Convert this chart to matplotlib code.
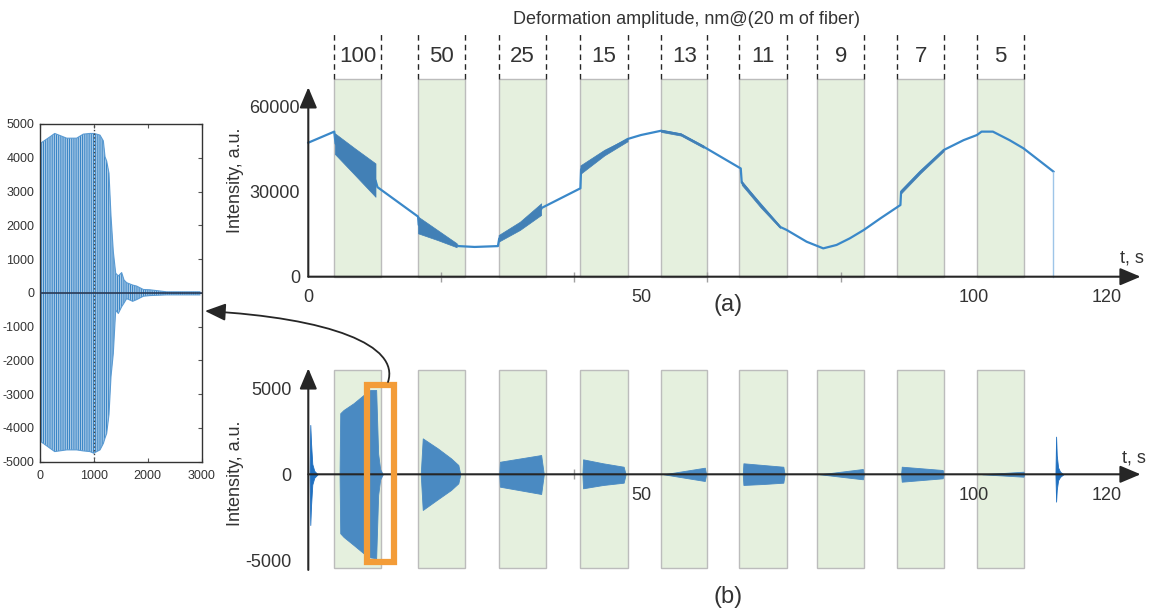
import matplotlib
matplotlib.use('Agg')
import matplotlib.pyplot as plt
from matplotlib.patches import Rectangle, FancyArrowPatch
from matplotlib.path import Path

plt.rcParams['font.family'] = ['Liberation Sans', 'DejaVu Sans']
plt.rcParams['hatch.linewidth'] = 0.8
plt.rcParams['axes.unicode_minus'] = False

# ---------------- data ----------------
amplitude_labels = ['100', '50', '25', '15', '13', '11', '9', '7', '5']
band_start = [3.9, 16.5, 28.6, 40.9, 53.0, 64.8, 76.5, 88.5, 100.5]
band_end = [11.0, 23.6, 35.7, 48.0, 60.0, 71.9, 83.6, 95.6, 107.6]
title_text = 'Deformation amplitude, nm@(20 m of fiber)'

# (a) slow intensity trace (t in s, intensity in a.u.)
a_t = [0, 3.9, 4.1, 10.1, 10.4, 16.5, 16.6, 19.4, 22.3, 22.6, 25.0, 28.5,
       28.7, 31.8, 35.0, 35.1, 40.9, 41.0, 44.5, 48.0, 50.0, 53.0, 56.0,
       59.4, 65.0, 65.15, 70.9, 71.9, 74.9, 77.4, 79.4, 81.4, 83.5, 86.0,
       89.0, 89.1, 92.0, 95.5, 98.5, 100.5, 101.2, 102.9, 105.4, 107.5, 112.0]
a_v = [47300, 51200, 47000, 34000, 31600, 21200, 18300, 14800, 11100, 10800,
       10500, 10800, 13500, 18000, 23800, 24300, 31200, 37900, 43900, 48600,
       50000, 51500, 50200, 45900, 38200, 33200, 17600, 16500, 12350, 10000,
       11200, 13550, 16500, 20600, 25300, 30000, 37050, 44700, 48200, 50000,
       51200, 51200, 48200, 45300, 37100]
a_drop_t = [112.0, 112.0]
a_drop_v = [37100, 0]

# (a) oscillation envelopes inside the deformation windows
a_env_t = [[4.0, 7.0, 10.1], [16.5, 19.4, 22.3], [28.6, 31.8, 35.0],
           [40.9, 44.5, 48.0], [53.0, 56.0, 59.4], [65.15, 68.0, 70.9],
           [89.1, 92.0, 95.5]]
a_env_up = [[50600, 45300, 40000], [21200, 16500, 11800], [14700, 19400, 25900],
            [39300, 44800, 48900], [51900, 50600, 46300], [33800, 25600, 18000],
            [30600, 37600, 45100]]
a_env_lo = [[43300, 35900, 28200], [15300, 12950, 10400], [12350, 16480, 21800],
            [36300, 42800, 47800], [51100, 49800, 45500], [32400, 24400, 17200],
            [29400, 36500, 44300]]

# (b) high-pass signal bursts (envelopes)
b_t = [[0.2, 0.3, 0.4, 0.6, 0.9, 1.4],
       [4.7, 4.8, 5.3, 6.8, 8.3, 9.3, 10.2, 10.5, 10.8, 11.2],
       [16.9, 17.2, 19.45, 21.45, 22.55, 22.85],
       [28.7, 28.8, 35.0, 35.4],
       [41.2, 41.3, 44.3, 47.4, 47.7],
       [53.4, 59.6, 59.8],
       [65.3, 65.4, 68.4, 71.4, 71.6],
       [76.9, 83.35, 83.5],
       [89.1, 89.2, 95.35, 95.5],
       [101.3, 107.5, 107.6],
       [112.3, 112.4, 112.5, 112.7, 113.0, 113.5]]
b_up = [[0, 2870, 1900, 600, 200, 0],
        [0, 3550, 3740, 4130, 4610, 4900, 4900, 1200, 300, 0],
        [0, 2090, 1510, 930, 540, 0],
        [0, 730, 1120, 0],
        [0, 870, 640, 440, 0],
        [0, 384, 0],
        [0, 640, 540, 440, 0],
        [0, 308, 0],
        [0, 442, 250, 0],
        [0, 151, 0],
        [0, 2190, 1100, 400, 150, 0]]
b_lo = [[0, -2950, -1900, -600, -200, 0],
        [0, -3430, -3640, -4110, -4590, -4830, -4880, -1200, -300, 0],
        [0, -2075, -1455, -913, -523, 0],
        [0, -721, -1145, 0],
        [0, -814, -622, -488, 0],
        [0, -390, 0],
        [0, -620, -564, -488, 0],
        [0, -291, 0],
        [0, -430, -233, 0],
        [0, -140, 0],
        [0, -1590, -900, -350, -150, 0]]
b_spike_index = [0, 10]

# zoomed window (orange box) in (b): t range and amplitude range
zoom_t = [8.8, 12.85]
zoom_v = [-5081, 5163]

# inset: zoomed waveform envelope (samples, amplitude)
ins_x = [0, 12, 185, 273, 495, 680, 803, 927, 1000, 1051, 1113, 1175, 1206,
         1237, 1280, 1317, 1360, 1404, 1453, 1515, 1559, 1608, 1720, 1793,
         1917, 2041, 2350, 2968]
ins_up = [2600, 4430, 4620, 4720, 4580, 4580, 4700, 4720, 4720, 4700, 4670,
          4500, 4030, 3900, 3540, 2280, 1220, 580, 500, 600, 380, 300, 230,
          200, 100, 90, 30, 30]
ins_lo = [-4000, -4400, -4600, -4700, -4650, -4650, -4680, -4700, -4750,
          -4700, -4650, -4460, -4300, -4160, -3600, -2480, -1790, -510, -610,
          -410, -300, -170, -250, -200, -100, -80, -60, -60]

# ---------------- figure ----------------
W, H = 1150, 613
fig = plt.figure(figsize=(W / 100, H / 100), dpi=100)

def fx(px):
    return px / W

def fy(py):
    return 1 - py / H

PX_PER_S = 6.653
T0_PX = 308.3
xlim = ((300 - T0_PX) / PX_PER_S, (1150 - T0_PX) / PX_PER_S)

BAND_FC = '#e5f0de'
BAND_EC = '#bcbcbc'
LINE_C = '#3a88c9'
FILL_C = '#4280b6'
BURST_C = '#4a8ac2'
AX_C = '#262626'
TXT_C = '#333333'

arrow_kw = dict(arrowstyle='-|>,head_length=0.9,head_width=0.38', color=AX_C,
                lw=1.5, shrinkA=0, shrinkB=0, mutation_scale=14)

# ---------- panel (a) ----------
a_top_py, a_bot_py = 10, 290
a_zero_py, a_scale = 276.7, 85 / 30000
axa = fig.add_axes([fx(300), fy(a_bot_py), fx(850), (a_bot_py - a_top_py) / H])
axa.set_xlim(*xlim)
axa.set_ylim(-(a_bot_py - a_zero_py) / a_scale, (a_zero_py - a_top_py) / a_scale)
for s in axa.spines.values():
    s.set_color('none')
axa.spines['bottom'].set_position(('data', 0))
axa.spines['left'].set_position(('data', 0))

band_top_a = 69670
for s, e, lab in zip(band_start, band_end, amplitude_labels):
    axa.add_patch(Rectangle((s, 0), e - s, band_top_a, fc=BAND_FC, ec=BAND_EC,
                            lw=1, zorder=1))
    for xe in (s, e):
        axa.plot([xe, xe], [band_top_a, 86470], ls=(0, (4, 3)), color=AX_C,
                 lw=1, zorder=2, clip_on=False)
    axa.text((s + e) / 2, 77650, lab, ha='center', va='center', fontsize=16,
             color=TXT_C)
axa.text(56.8, 90600, title_text, ha='center', va='center', fontsize=13,
         color=TXT_C)

axa.plot(a_t, a_v, color=LINE_C, lw=1.6, zorder=3, solid_joinstyle='round')
axa.plot(a_drop_t, a_drop_v, color='#9ec5e8', lw=1, zorder=3)
for tt, up, lo in zip(a_env_t, a_env_up, a_env_lo):
    axa.fill_between(tt, lo, up, color=FILL_C, lw=0.5, zorder=3.5)

axa.annotate('', xy=(0, 66850), xytext=(0, 0), arrowprops=arrow_kw, zorder=5)
axa.annotate('', xy=(125.1, 0), xytext=(0, 0), arrowprops=arrow_kw, zorder=5)

axa.set_xticks([0, 50, 100, 120])
axa.set_xticks([20, 40, 60, 80, 100, 120], minor=True)
axa.set_yticks([0, 30000, 60000])
axa.set_yticks([30000, 60000], minor=True)
axa.tick_params(axis='x', which='major', length=0, pad=9, labelsize=13,
                labelcolor=TXT_C)
axa.tick_params(axis='y', which='major', length=0, pad=6, labelsize=13,
                labelcolor=TXT_C)
axa.tick_params(which='minor', direction='inout', length=7, width=1,
                color='#a0a0a0')
axa.text((1132 - T0_PX) / PX_PER_S, (a_zero_py - 258) / a_scale, 't, s',
         ha='center', va='center', fontsize=13, color=TXT_C)
fig.text(fx(235), fy(180), 'Intensity, a.u.', rotation=90, ha='center',
         va='center', fontsize=13, color=TXT_C)
fig.text(fx(728), fy(305), '(a)', ha='center', va='center', fontsize=17,
         color=TXT_C)

# ---------- panel (b) ----------
b_top_py, b_bot_py = 360, 575
b_zero_py, b_scale = 474.3, 86 / 5000
axb = fig.add_axes([fx(300), fy(b_bot_py), fx(850), (b_bot_py - b_top_py) / H])
axb.set_xlim(*xlim)
axb.set_ylim(-(b_bot_py - b_zero_py) / b_scale, (b_zero_py - b_top_py) / b_scale)
for s in axb.spines.values():
    s.set_color('none')
axb.spines['bottom'].set_position(('data', 0))
axb.spines['left'].set_position(('data', 0))

for s, e in zip(band_start, band_end):
    axb.add_patch(Rectangle((s, -5430), e - s, 11500, fc=BAND_FC, ec=BAND_EC,
                            lw=1, zorder=1))
for i, (tt, up, lo) in enumerate(zip(b_t, b_up, b_lo)):
    c = '#1f6fbf' if i in b_spike_index else BURST_C
    axb.fill_between(tt, lo, up, color=c, lw=0.6, zorder=3)

axb.annotate('', xy=(0, 6160), xytext=(0, -5560), arrowprops=arrow_kw, zorder=5)
axb.annotate('', xy=(125.1, 0), xytext=(0, 0), arrowprops=arrow_kw, zorder=5)
axb.add_patch(Rectangle((zoom_t[0], zoom_v[0]), zoom_t[1] - zoom_t[0],
                        zoom_v[1] - zoom_v[0], fill=False, ec='#f39c38',
                        lw=4.5, zorder=6, clip_on=False))

axb.set_xticks([50, 100, 120])
axb.set_xticks([20, 40, 100, 120], minor=True)
axb.set_yticks([-5000, 0, 5000])
axb.set_yticks([-5000, 5000], minor=True)
axb.tick_params(axis='x', which='major', length=0, pad=9, labelsize=13,
                labelcolor=TXT_C)
axb.tick_params(axis='y', which='major', length=0, pad=12, labelsize=13,
                labelcolor=TXT_C)
axb.tick_params(which='minor', direction='inout', length=7, width=1,
                color='#a0a0a0')
axb.text((1134 - T0_PX) / PX_PER_S, (b_zero_py - 458) / b_scale, 't, s',
         ha='center', va='center', fontsize=13, color=TXT_C)
fig.text(fx(235), fy(473), 'Intensity, a.u.', rotation=90, ha='center',
         va='center', fontsize=13, color=TXT_C)
fig.text(fx(728), fy(597), '(b)', ha='center', va='center', fontsize=17,
         color=TXT_C)

# ---------- inset ----------
axi = fig.add_axes([fx(40), fy(461.7), fx(161.7), (461.7 - 124) / H])
axi.set_xlim(0, 3000)
axi.set_ylim(-5000, 5000)
axi.fill_between(ins_x, ins_lo, ins_up, facecolor='#cfe1f2',
                 edgecolor='#3a86c6', hatch='|' * 9, lw=0, zorder=2)
axi.plot(ins_x, ins_up, color='#5b9bd3', lw=0.8, zorder=2.5)
axi.plot(ins_x, ins_lo, color='#5b9bd3', lw=0.8, zorder=2.5)
axi.axhline(0, color='#2a3a55', lw=1.2, zorder=3)
axi.axvline(1000, color='#444444', lw=1, ls=':', zorder=3)
axi.set_xticks([0, 1000, 2000, 3000])
axi.set_yticks(list(range(-5000, 5001, 1000)))
axi.tick_params(direction='in', length=3, width=0.8, labelsize=9,
                labelcolor=TXT_C, color='#555555', top=True, right=True)
axi.tick_params(axis='y', pad=4)
axi.tick_params(axis='x', pad=6)
for s in axi.spines.values():
    s.set_color('#333333')
    s.set_linewidth(1)

# ---------- connecting arrow ----------
verts = [(fx(388), fy(382)), (fx(400), fy(345)), (fx(330), fy(318)),
         (fx(205), fy(311))]
codes = [Path.MOVETO, Path.CURVE4, Path.CURVE4, Path.CURVE4]
conn = FancyArrowPatch(path=Path(verts, codes),
                       arrowstyle='-|>,head_length=0.9,head_width=0.38',
                       mutation_scale=14, color=AX_C, lw=1.3,
                       transform=fig.transFigure)
fig.add_artist(conn)

fig.savefig('out.png', dpi=100)
